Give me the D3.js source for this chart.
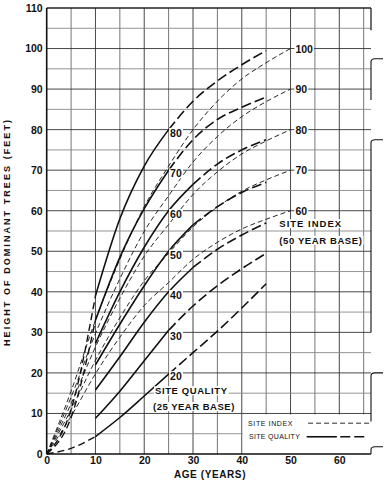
<!DOCTYPE html>
<html>
<head>
<meta charset="utf-8">
<script src="https://cdn.jsdelivr.net/npm/d3@7"></script>
<style>
  body { margin: 0; background: #fff; }
  text { font-family: "Liberation Sans", Arial, sans-serif; fill: #111; }
</style>
</head>
<body>
<svg id="chart" width="384" height="481"></svg>
<script>
// site index curves (50 year base), thin short dash
var siAges = [0, 5, 10, 15, 20, 25, 30, 35, 40, 45, 50]
var siLabels = [60, 70, 80, 90, 100]
var siHeights = [
  [0, 9.3, 19.8, 28.8, 36.6, 42.3, 48, 52.2, 55.5, 57.9, 60],
  [0, 10.9, 23.1, 33.6, 42.7, 49.5, 56, 60.9, 64.8, 67.6, 70],
  [0, 12.4, 26.4, 38.4, 48.8, 56.6, 64, 69.6, 74, 77.2, 80],
  [0, 14, 29.7, 43.2, 54.9, 63.7, 72, 78.3, 83.2, 86.9, 90],
  [0, 15.5, 33, 48, 61, 71, 80, 87, 92.5, 96.5, 100]
]

// site quality curves (25 year base), solid then long dash
var sqAges = [0, 5, 10, 15, 20, 25, 30, 35, 40, 45]
var sqLabels = [20, 30, 40, 50, 60, 70, 80]
var sqHeights = [
  [0, 1.4, 4.3, 9, 14.3, 19.7, 25, 30.3, 36, 42],
  [null, null, 8.8, 15.5, 23, 30.5, 36.5, 41.5, 45.7, 49.5],
  [null, null, 15.8, 24, 32.5, 40, 46, 50.5, 54, 57],
  [null, null, 22, 32, 41.5, 50, 56.5, 61, 64.5, 67],
  [null, null, 27.3, 40, 51, 60, 66.5, 71.5, 75, 77.5],
  [0, 9, 33, 48.5, 60.5, 70, 77.5, 82.5, 85.5, 88],
  [0, 11, 39, 58, 71, 80, 87, 92, 96, 99.5]
]
var sqSolidFrom = [10, 10, 10, 10, 10, 10, 10]
var sqSolidTo = [25, 25, 30, 30, 30, 25, 25]

var xTicks = [0, 10, 20, 30, 40, 50, 60]
var yTicks = [0, 10, 20, 30, 40, 50, 60, 70, 80, 90, 100, 110]

var svg = d3.select("#chart")
var x = d3.scaleLinear().domain([0, 66.5]).range([46.7, 371])
var y = d3.scaleLinear().domain([0, 110]).range([454, 8])

// grid
var grid = svg.append("g")
grid.selectAll("line.v").data(d3.range(5, 66, 5)).join("line")
  .attr("x1", d => x(d)).attr("x2", d => x(d))
  .attr("y1", y(0)).attr("y2", y(110))
  .style("stroke", d => d % 10 == 0 ? "#333" : "#666").style("stroke-width", 0.9)
grid.selectAll("line.h").data(d3.range(5, 111, 5)).join("line")
  .attr("x1", x(0)).attr("x2", x(66.5))
  .attr("y1", d => y(d)).attr("y2", d => y(d))
  .style("stroke", d => d % 10 == 0 ? "#333" : "#888").style("stroke-width", 0.9)

// legend area has no grid
svg.append("rect")
  .attr("x", x(40) + 1).attr("y", y(10) + 1)
  .attr("width", x(66.5) - x(40) - 1).attr("height", y(0) - y(10) - 1.5)
  .style("fill", "#fff")

// axes lines
svg.append("line").attr("x1", x(0)).attr("x2", x(0)).attr("y1", y(0)).attr("y2", y(110))
  .style("stroke", "#111").style("stroke-width", 1.6)
svg.append("line").attr("x1", x(0)).attr("x2", x(66.5)).attr("y1", y(0)).attr("y2", y(0))
  .style("stroke", "#111").style("stroke-width", 1.6)
svg.append("line").attr("x1", x(0)).attr("x2", x(66.5)).attr("y1", y(110)).attr("y2", y(110))
  .style("stroke", "#111").style("stroke-width", 1.2)

// right border, broken with little hooks
var borderParts = [[110, 104.5], [97.5, 87.3], [77.5, 30], [20, 8], [1.8, 0]]
borderParts.forEach(function(p, i) {
  var p0 = y(p[0]), p1 = y(p[1]), bx = x(66.5)
  if (i == 0) {
    svg.append("line").attr("x1", bx).attr("x2", bx).attr("y1", p0).attr("y2", p1)
      .style("stroke", "#111").style("stroke-width", 1.2)
  } else {
    svg.append("path")
      .attr("d", "M" + bx + "," + p1 + " L" + bx + "," + (p0 + 3) + " Q" + bx + "," + p0 + " " + (bx + 4) + "," + p0 + " L" + (bx + 12) + "," + p0)
      .style("fill", "none").style("stroke", "#111").style("stroke-width", 1.1)
  }
})

var line = d3.line().x(d => x(d[0])).y(d => y(d[1])).curve(d3.curveMonotoneX)

// site index curves
siHeights.forEach(function(hs) {
  var pts = siAges.map((a, i) => [a, hs[i]])
  svg.append("path").attr("d", line(pts))
    .style("fill", "none").style("stroke", "#111").style("stroke-width", 0.9)
    .style("stroke-dasharray", "5,3")
})

// site quality curves
sqHeights.forEach(function(hs, k) {
  var pts = sqAges.map((a, i) => [a, hs[i]]).filter(d => d[1] != null)
  var before = pts.filter(d => d[0] <= sqSolidFrom[k])
  var solid = pts.filter(d => d[0] >= sqSolidFrom[k] && d[0] <= sqSolidTo[k])
  var after = pts.filter(d => d[0] >= sqSolidTo[k])
  if (before.length > 1) {
    svg.append("path").attr("d", line(before))
      .style("fill", "none").style("stroke", "#111").style("stroke-width", 1.4)
      .style("stroke-dasharray", "7,4")
  }
  svg.append("path").attr("d", line(solid))
    .style("fill", "none").style("stroke", "#111").style("stroke-width", 1.6)
  svg.append("path").attr("d", line(after))
    .style("fill", "none").style("stroke", "#111").style("stroke-width", 1.6)
    .style("stroke-dasharray", "10,4")
})

function boxedText(tx, ty, str, size, anchor, weight, spacing) {
  var t = svg.append("text").attr("x", tx).attr("y", ty).text(str)
    .attr("text-anchor", anchor || "start").attr("dominant-baseline", "central")
    .style("font-size", size + "px").style("font-weight", weight || "bold")
    .style("letter-spacing", (spacing || 0) + "px")
  var b = t.node().getBBox()
  svg.insert("rect", function() { return t.node() })
    .attr("x", b.x - 1).attr("y", b.y + 1).attr("width", b.width + 2).attr("height", b.height - 2)
    .style("fill", "#fff")
  return t
}

// curve labels
sqLabels.forEach(function(v) { boxedText(x(26.5), y(v - 0.8), v, 10.5, "middle") })
siLabels.forEach(function(v) { boxedText(x(51), y(v), v, 10.5, "start") })

boxedText(x(47.7), y(56.8), "SITE INDEX", 9.5, "start", "bold", 1)
boxedText(x(47.7), y(52.7), "(50 YEAR BASE)", 9.5, "start", "bold", 0.6)
boxedText(x(22.2), y(15.6), "SITE QUALITY", 9.5, "start", "bold", 0.6)
boxedText(x(21.8), y(11.7), "(25 YEAR BASE)", 9.5, "start", "bold", 0.5)

// legend
svg.append("text").attr("x", x(41.3)).attr("y", y(7.6)).attr("dominant-baseline", "central")
  .style("font-size", "7px").style("letter-spacing", "0.6px").text("SITE INDEX")
svg.append("line").attr("x1", x(53.6)).attr("x2", x(66.2)).attr("y1", y(7.6)).attr("y2", y(7.6))
  .style("stroke", "#111").style("stroke-width", 0.9).style("stroke-dasharray", "5,3")
svg.append("text").attr("x", x(41.5)).attr("y", y(4.25)).attr("dominant-baseline", "central")
  .style("font-size", "7px").style("letter-spacing", "0.3px").text("SITE QUALITY")
svg.append("line").attr("x1", x(53.3)).attr("x2", x(59.5)).attr("y1", y(4.25)).attr("y2", y(4.25))
  .style("stroke", "#111").style("stroke-width", 1.6)
svg.append("line").attr("x1", x(60.2)).attr("x2", x(65.3)).attr("y1", y(4.25)).attr("y2", y(4.25))
  .style("stroke", "#111").style("stroke-width", 1.6).style("stroke-dasharray", "10,4")

// tick labels
var xAxis = svg.append("g").attr("transform", "translate(0," + (y(0) + 2.5) + ")")
  .call(d3.axisBottom(x).tickValues(xTicks).tickSize(0).tickPadding(0))
xAxis.select(".domain").remove()
xAxis.selectAll("text").style("font-size", "10.5px").style("font-weight", "bold")
  .style("font-family", "Liberation Sans, Arial, sans-serif").attr("fill", "#111")

var yAxis = svg.append("g").attr("transform", "translate(" + (x(0) - 4) + ",0)")
  .call(d3.axisLeft(y).tickValues(yTicks).tickSize(0).tickPadding(0))
yAxis.select(".domain").remove()
yAxis.selectAll("text").style("font-size", "10.5px").style("font-weight", "bold")
  .style("font-family", "Liberation Sans, Arial, sans-serif").attr("fill", "#111")

// axis titles
svg.append("text").attr("x", 210).attr("y", 474).attr("text-anchor", "middle")
  .attr("dominant-baseline", "central").style("font-size", "10px").style("font-weight", "bold")
  .style("letter-spacing", "0.6px").text("AGE (YEARS)")
svg.append("text").attr("transform", "translate(7,233) rotate(-90)").attr("text-anchor", "middle")
  .attr("dominant-baseline", "central").style("font-size", "9px").style("font-weight", "bold")
  .attr("textLength", 226).attr("lengthAdjust", "spacing")
  .text("HEIGHT OF DOMINANT TREES (FEET)")
</script>
</body>
</html>
